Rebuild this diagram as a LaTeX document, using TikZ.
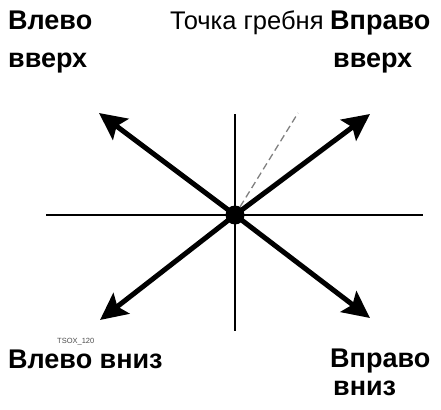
\documentclass[tikz,border=0pt]{standalone}
\usepackage{fontspec}
\setmainfont{Liberation Sans}
\usetikzlibrary{arrows.meta}

\begin{document}
\begin{tikzpicture}[
  x=1pt, y=-1pt,
  axis/.style={draw, line width=2pt},
  move/.style={draw, line width=5pt, -{Stealth[length=27pt, width=26pt, inset=5pt]}, shorten <=2pt},
  crest/.style={draw, gray, line width=1.3pt, dash pattern=on 7pt off 4pt},
  label/.style={anchor=base west, inner sep=0pt, align=left, font=\bfseries\fontsize{27}{38}\selectfont},
  tag/.style={anchor=base west, inner sep=0pt, font=\fontsize{7.5}{8}\selectfont, text=black!70}
]
  \useasboundingbox (0,0) rectangle (441,409);

  \node[circle, fill=black, inner sep=0pt, minimum size=19pt] (P) at (235,215) {};

  % axes
  \coordinate (W) at (46,215);
  \coordinate (E) at (423,215);
  \coordinate (N) at (235,114);
  \coordinate (S) at (235,331);
  \draw[axis] (W) -- (E);
  \draw[axis] (N) -- (S);

  % crest direction
  \coordinate (C) at (298,113);
  \draw[crest] (P) -- (C);

  % directions
  \coordinate (UL) at (99,113);
  \coordinate (UR) at (370,114);
  \coordinate (DL) at (100,320);
  \coordinate (DR) at (370,318);
  \draw[move] (P.center) -- (UL);
  \draw[move] (P.center) -- (UR);
  \draw[move] (P.center) -- (DL);
  \draw[move] (P.center) -- (DR);

  % texts
  \node[label] (ul) at (8,68) {Влево\\вверх};
  \node[label] (ur) at (330,68) {Вправо\\\hspace*{3pt}вверх};
  \node[anchor=base west, inner sep=0pt, font=\fontsize{25.5}{28}\selectfont] (crestlbl) at (170,30) {Точка гребня};
  \node[label] (dl) at (8,368) {Влево вниз};
  \node[label, font=\bfseries\fontsize{27}{28}\selectfont] (dr) at (330,395) {Вправо\\\hspace*{3pt}вниз};
  \node[tag] (id) at (57,343) {TSOX\_120};
\end{tikzpicture}
\end{document}
